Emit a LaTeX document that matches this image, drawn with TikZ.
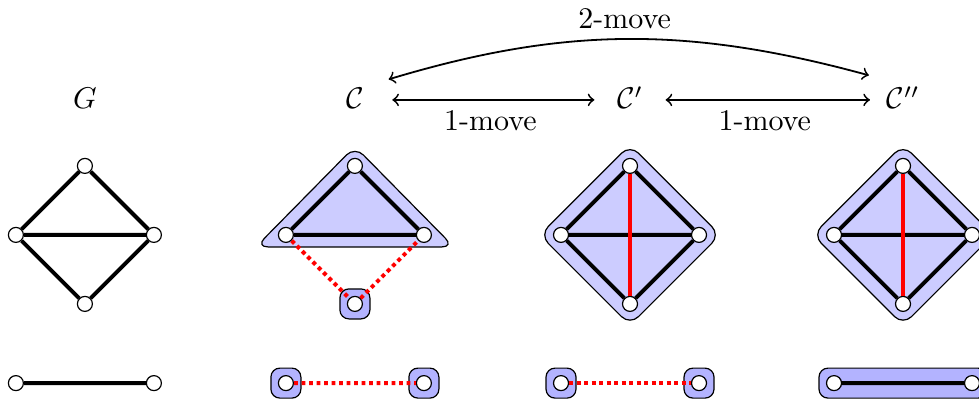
\documentclass[tikz,border=0pt]{standalone}
\usepackage{amsmath}
\usetikzlibrary{calc,backgrounds}
\definecolor{hull}{HTML}{CCCCFF}
\definecolor{solo}{HTML}{B3B3FF}

\begin{document}
\begin{tikzpicture}[x=1pt,y=1pt,
  vtx/.style={circle,draw,fill=white,inner sep=0pt,minimum size=5pt},
  edge/.style={line width=1.3pt},
  cut/.style={line width=1.4pt,red},
  gap/.style={line width=1.3pt,red,dash pattern=on 1.3pt off 1.2pt},
  hullbox/.style={draw,thin,fill=hull,rounded corners=4pt},
  solobox/.style={draw,thin,fill=solo,rounded corners=3pt},
  lab/.style={text height=7pt,text depth=1pt},
  move/.style={<->,semithick,shorten <=2pt,shorten >=2pt}]

  \useasboundingbox (0,0) rectangle (326.33,-134);

  % labels and moves
  \node[lab] (G) at (28.3,-33.3) {$G$};
  \node[lab] (C0) at (118.3,-33.3) {$\mathcal{C}$};
  \node[lab] (C1) at (210,-33.3) {$\mathcal{C}'$};
  \node[lab] (C2) at (301,-33.3) {$\mathcal{C}''$};
  \draw[move,shorten <=6pt,shorten >=4pt] (C0) -- node[below] {1-move} (C1);
  \draw[move,shorten <=4pt] (C1) -- node[below] {1-move} (C2);
  \draw[move,shorten <=5pt,shorten >=2.5pt] (C0.40) to[bend left=16] node[above] {2-move} (C2.140);

  % vertices of the four copies
  \foreach \n/\x in {g/28.3,c/118.3,d/210,e/301}{
    \node[vtx] (T\n) at (\x,-55.3) {};
    \node[vtx] (L\n) at (\x-23,-78.3) {};
    \node[vtx] (R\n) at (\x+23,-78.3) {};
    \node[vtx] (B\n) at (\x,-101.3) {};
    \node[vtx] (P\n) at (\x-23,-127.7) {};
    \node[vtx] (Q\n) at (\x+23,-127.7) {};
  }

  % G
  \draw[edge] (Tg) -- (Lg) -- (Bg) -- (Rg) -- (Tg) (Lg) -- (Rg) (Pg) -- (Qg);
  % C
  \draw[edge] (Tc) -- (Lc) -- (Rc) -- (Tc);
  \draw[gap] (Lc) -- (Bc) -- (Rc) (Pc) -- (Qc);
  % C'
  \draw[edge] (Td) -- (Ld) -- (Bd) -- (Rd) -- (Td) (Ld) -- (Rd);
  \draw[cut] (Td) -- (Bd);
  \draw[gap] (Pd) -- (Qd);
  % C''
  \draw[edge] (Te) -- (Le) -- (Be) -- (Re) -- (Te) (Le) -- (Re) (Pe) -- (Qe);
  \draw[cut] (Te) -- (Be);

  % clusters
  \begin{scope}[on background layer]
    \draw[hullbox] ($(Tc)+(0,6.5)$) -- ($(Lc)+(-10,-4)$) -- ($(Rc)+(10,-4)$) -- cycle;
    \foreach \n in {d,e}
      \draw[hullbox] ($(T\n)+(0,7.07)$) -- ($(L\n)+(-7.07,0)$) -- ($(B\n)+(0,-7.07)$) -- ($(R\n)+(7.07,0)$) -- cycle;
    \foreach \v in {Bc,Pc,Qc,Pd,Qd}
      \draw[solobox] ($(\v)+(-5,-5)$) rectangle ($(\v)+(5,5)$);
    \draw[solobox] ($(Pe)+(-5,-5)$) rectangle ($(Qe)+(5,5)$);
  \end{scope}
\end{tikzpicture}
\end{document}
